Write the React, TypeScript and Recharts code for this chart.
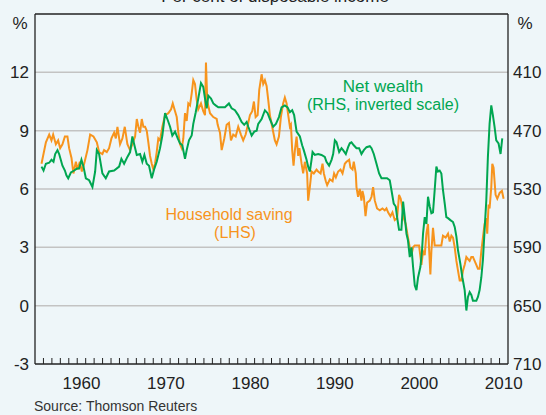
import { LineChart, Line, XAxis, YAxis, ReferenceLine } from "recharts";

// household saving, per cent of disposable income (LHS)
const savingYears = [
  1955.77, 1956.29, 1956.68, 1956.95, 1957.15, 1957.47, 1957.74, 1957.98, 1958.25, 1958.54, 1958.84,
  1959.04, 1959.32, 1959.55, 1959.84, 1960.03, 1960.31, 1960.55, 1960.82, 1961.21, 1961.53, 1961.92,
  1962.32, 1962.59, 1962.98, 1963.18, 1963.5, 1963.77, 1964.05, 1964.37, 1964.57, 1964.76, 1965.07,
  1965.35, 1965.63, 1965.94, 1966.26, 1966.53, 1966.85, 1967.05, 1967.24, 1967.44, 1967.64, 1967.83,
  1968.03, 1968.23, 1968.42, 1968.62, 1968.82, 1969.01, 1969.21, 1969.41, 1969.6, 1969.8, 1970.08,
  1970.4, 1970.79, 1971.11, 1971.31, 1971.58, 1971.78, 1971.97, 1972.17, 1972.37, 1972.56, 1972.76,
  1972.96, 1973.15, 1973.35, 1973.55, 1973.74, 1973.94, 1974.14, 1974.33, 1974.65, 1974.92, 1975.13,
  1975.24, 1975.4, 1975.72, 1976.11, 1976.51, 1976.63, 1976.9, 1977.1, 1977.41, 1977.69, 1977.96,
  1978.2, 1978.47, 1978.76, 1979.06, 1979.38, 1979.65, 1979.94, 1980.25, 1980.45, 1980.72, 1980.92,
  1981.12, 1981.36, 1981.55, 1981.83, 1982.02, 1982.22, 1982.42, 1982.61, 1982.81, 1983.08, 1983.4,
  1983.6, 1983.88, 1984.11, 1984.38, 1984.58, 1984.79, 1984.98, 1985.18, 1985.3, 1985.45, 1985.61,
  1985.77, 1985.97, 1986.16, 1986.3, 1986.56, 1986.75, 1986.95, 1987.22, 1987.34, 1987.54, 1987.74,
  1988.01, 1988.33, 1988.52, 1988.81, 1989.04, 1989.2, 1989.43, 1989.59, 1989.91, 1990.23, 1990.41,
  1990.62, 1990.89, 1991.17, 1991.41, 1991.68, 1991.88, 1992.19, 1992.35, 1992.59, 1992.74, 1992.98,
  1993.06, 1993.25, 1993.45, 1993.65, 1993.77, 1993.93, 1994.13, 1994.32, 1994.64, 1994.84, 1995.03,
  1995.23, 1995.5, 1995.82, 1996.14, 1996.41, 1996.61, 1996.8, 1997.08, 1997.32, 1997.59, 1997.87,
  1998.1, 1998.3, 1998.5, 1998.66, 1998.89, 1999.16, 1999.37, 1999.57, 1999.76, 1999.96, 2000.23,
  2000.47, 2000.75, 2000.94, 2001.14, 2001.34, 2001.53, 2001.65, 2001.81, 2001.93, 2002.12, 2002.32,
  2002.52, 2002.83, 2003.11, 2003.3, 2003.62, 2003.9, 2004.1, 2004.3, 2004.49, 2004.69, 2004.89,
  2005.08, 2005.28, 2005.48, 2005.67, 2005.87, 2006.07, 2006.26, 2006.46, 2006.66, 2006.85, 2007.05,
  2007.25, 2007.44, 2007.64, 2007.84, 2008.03, 2008.23, 2008.43, 2008.54, 2008.7, 2008.82, 2009.02,
  2009.14, 2009.29, 2009.53, 2009.73, 2010.01, 2010.28, 2010.48,
];
const savingValues = [
  7.3, 8.4, 8.8, 8.5, 8.8, 8.3, 8.5, 8.1, 8.3, 8.7, 8.7,
  8.1, 7.6, 6.8, 7.4, 7.0, 7.4, 6.9, 7.3, 8.0, 8.8, 8.7,
  8.4, 7.9, 7.8, 8.0, 7.9, 8.1, 8.6, 8.9, 8.6, 9.2, 8.3,
  8.6, 9.2, 8.3, 8.0, 8.3, 8.7, 9.6, 9.2, 8.9, 9.6, 9.2,
  9.2, 9.0, 8.4, 7.7, 7.3, 7.0, 7.3, 7.9, 8.6, 8.5, 9.2,
  9.8, 9.9, 10.1, 10.4, 10.0, 9.7, 8.9, 8.3, 8.1, 8.6, 9.9,
  9.5, 10.4, 10.3, 10.9, 11.6, 11.4, 10.6, 10.1, 10.4, 10.0, 9.8,
  12.5, 10.5, 9.9, 9.7, 9.6, 9.3, 8.9, 8.0, 8.6, 9.3, 9.4,
  8.5, 8.8, 8.7, 9.2, 8.8, 8.5, 8.8, 9.4, 9.8, 10.0, 10.5,
  9.7, 9.8, 11.1, 11.9, 11.4, 11.6, 11.3, 10.6, 9.8, 9.2, 8.5,
  8.3, 8.7, 9.7, 10.4, 10.7, 10.4, 9.8, 9.2, 9.3, 8.0, 7.2,
  8.0, 8.7, 7.7, 8.1, 7.3, 6.8, 7.4, 6.8, 5.4, 6.1, 6.9,
  6.8, 7.0, 6.9, 6.8, 7.3, 6.8, 6.4, 6.2, 6.5, 6.4, 6.8,
  6.6, 6.9, 7.0, 6.8, 7.3, 7.4, 7.5, 7.1, 7.0, 7.4, 6.8,
  6.1, 5.6, 6.0, 5.4, 5.9, 5.6, 4.6, 5.3, 5.4, 5.6, 6.1,
  5.4, 5.0, 4.9, 5.0, 4.9, 5.0, 4.8, 4.6, 4.8, 4.4, 4.5,
  5.7, 5.5, 5.0, 4.5, 4.2, 3.5, 3.0, 2.6, 3.0, 3.1, 3.1,
  3.1, 2.1, 2.8, 2.6, 3.7, 4.2, 3.0, 1.6, 2.8, 4.0, 3.1,
  3.1, 3.1, 3.1, 3.6, 3.5, 3.7, 3.3, 3.6, 3.5, 3.0, 2.3,
  1.8, 1.3, 1.3, 1.8, 2.1, 2.5, 2.4, 2.3, 2.5, 2.5, 2.3,
  2.1, 1.9, 1.9, 2.8, 3.5, 4.2, 4.5, 3.7, 5.2, 5.0, 6.1,
  7.3, 7.1, 5.7, 5.5, 5.8, 5.9, 5.5,
];

// net wealth, per cent of disposable income (RHS, inverted)
const wealthYears = [
  1955.77, 1956.01, 1956.29, 1956.68, 1956.95, 1957.19, 1957.39, 1957.66, 1957.86, 1958.25, 1958.54,
  1958.72, 1958.93, 1959.25, 1959.64, 1959.96, 1960.23, 1960.5, 1960.74, 1961.02, 1961.41, 1961.8,
  1962.12, 1962.32, 1962.59, 1962.98, 1963.38, 1963.77, 1964.37, 1964.96, 1965.23, 1965.55, 1965.94,
  1966.26, 1966.53, 1966.77, 1967.05, 1967.44, 1967.71, 1967.95, 1968.23, 1968.5, 1968.82, 1969.13,
  1969.41, 1969.8, 1970.08, 1970.4, 1970.71, 1970.99, 1971.26, 1971.58, 1971.9, 1972.17, 1972.44,
  1972.76, 1972.96, 1973.23, 1973.55, 1973.74, 1974.03, 1974.33, 1974.65, 1974.92, 1975.13, 1975.33,
  1975.52, 1975.84, 1976.11, 1976.39, 1976.7, 1977.1, 1977.49, 1977.96, 1978.28, 1978.67, 1979.06,
  1979.46, 1979.77, 1980.06, 1980.25, 1980.65, 1980.96, 1981.24, 1981.43, 1981.83, 1982.22, 1982.54,
  1982.81, 1983.2, 1983.52, 1983.88, 1984.19, 1984.58, 1984.9, 1985.18, 1985.45, 1985.68, 1985.97,
  1986.36, 1986.63, 1986.82, 1987.15, 1987.34, 1987.54, 1987.74, 1987.86, 1988.13, 1988.52, 1988.92,
  1989.31, 1989.51, 1989.82, 1990.11, 1990.3, 1990.5, 1990.7, 1991.01, 1991.29, 1991.48, 1991.8,
  1992.07, 1992.27, 1992.47, 1992.74, 1993.06, 1993.37, 1993.65, 1993.93, 1994.25, 1994.64, 1994.84,
  1995.11, 1995.43, 1995.74, 1996.02, 1996.41, 1996.68, 1997.0, 1997.2, 1997.47, 1997.71, 1997.87,
  1998.1, 1998.38, 1998.58, 1998.78, 1998.98, 1999.16, 1999.37, 1999.57, 1999.76, 1999.96, 2000.16,
  2000.35, 2000.63, 2000.82, 2000.94, 2001.14, 2001.34, 2001.53, 2001.73, 2001.93, 2002.12, 2002.32,
  2002.52, 2002.71, 2002.91, 2003.11, 2003.3, 2003.51, 2003.7, 2003.9, 2004.18, 2004.49, 2004.69,
  2004.89, 2005.08, 2005.36, 2005.6, 2005.87, 2006.07, 2006.26, 2006.46, 2006.66, 2006.85, 2007.25,
  2007.44, 2007.64, 2007.84, 2008.03, 2008.23, 2008.43, 2008.62, 2008.82, 2009.02, 2009.21, 2009.41,
  2009.61, 2009.88, 2010.12, 2010.32,
];
const wealthValues = [
  507, 511, 504, 503, 500, 502, 494, 490, 494, 506, 511,
  516, 519, 513, 511, 509, 509, 500, 507, 519, 521, 528,
  512, 490, 494, 514, 519, 512, 511, 507, 499, 504, 497,
  492, 476, 485, 495, 494, 502, 495, 504, 506, 519, 509,
  502, 488, 475, 452, 459, 466, 475, 471, 478, 483, 485,
  499, 490, 480, 475, 463, 451, 437, 421, 425, 437, 447,
  434, 437, 442, 444, 446, 446, 446, 442, 447, 449, 454,
  461, 464, 461, 466, 475, 471, 470, 463, 458, 449, 452,
  458, 466, 463, 456, 446, 444, 446, 451, 449, 454, 471,
  476, 485, 490, 500, 507, 512, 500, 492, 495, 494, 495,
  497, 502, 506, 500, 494, 480, 482, 492, 488, 490, 494,
  487, 483, 482, 485, 488, 488, 494, 490, 487, 486, 488,
  494, 504, 514, 519, 519, 519, 521, 531, 545, 548, 559,
  572, 572, 543, 559, 576, 583, 600, 590, 610, 629, 634,
  621, 610, 593, 576, 559, 566, 538, 548, 555, 554, 531,
  507, 512, 511, 514, 531, 545, 559, 560, 562, 564, 569,
  579, 593, 607, 621, 634, 655, 641, 636, 639, 645, 645,
  641, 634, 621, 603, 572, 542, 497, 463, 444, 454, 466,
  480, 483, 494, 478,
];

const leftTicks = [-3, 0, 3, 6, 9, 12];
const rightTicks = [410, 470, 530, 590, 650, 710];
const gridValues = [0, 3, 6, 9, 12];
const decadeLabels = [1960, 1970, 1980, 1990, 2000, 2010];
const yearTicks = Array.from({ length: 55 }, (_, i) => 1956 + i);

const savingData = savingYears.map((year, i) => ({ year, v: savingValues[i] }));
const wealthData = wealthYears.map((year, i) => ({ year, v: wealthValues[i] }));

const W = 546;
const H = 415;
const LEFT = 35;
const RIGHT = 38;
const HALF_YEAR = (W - LEFT - RIGHT) / 56 / 2;

const ORANGE = "#F7941D";
const GREEN = "#00A651";
const BG = "#EEF6F9";
const INK = "#222";
const FONT = "Arial, 'Liberation Sans', sans-serif";

function YearTick(props: any) {
  const { x, y, payload } = props;
  const yr = payload.value;
  return (
    <g>
      <line x1={x} y1={y - 6} x2={x} y2={y} stroke={INK} strokeWidth={1} />
      {decadeLabels.includes(yr) && (
        <text x={x + HALF_YEAR} y={y + 25} textAnchor="middle" fontSize={17} fill={INK} fontFamily={FONT}>
          {yr}
        </text>
      )}
    </g>
  );
}

export default function App() {
  const tickStyle = { fontSize: 17, fill: INK, fontFamily: FONT };
  return (
    <div style={{ position: "relative", width: W, height: H, background: BG, overflow: "hidden" }}>
      <style>{`body{margin:0}`}</style>
      <LineChart width={W} height={H} margin={{ top: 14, right: 0, bottom: 0, left: 0 }}>
        <XAxis
          dataKey="year"
          type="number"
          domain={[1955, 2011]}
          allowDataOverflow
          ticks={yearTicks}
          interval={0}
          tick={<YearTick />}
          tickLine={false}
          tickSize={0}
          tickMargin={0}
          height={51}
          axisLine={{ stroke: INK, strokeWidth: 1.3 }}
        />
        <YAxis
          yAxisId="left"
          domain={[-3, 15]}
          ticks={leftTicks}
          interval={0}
          width={LEFT}
          tickLine={false}
          tickSize={0}
          tickMargin={6}
          tick={tickStyle}
          axisLine={{ stroke: INK, strokeWidth: 1.3 }}
        />
        <YAxis
          yAxisId="right"
          orientation="right"
          domain={[350, 710]}
          reversed
          ticks={rightTicks}
          interval={0}
          width={RIGHT}
          tickLine={false}
          tickSize={0}
          tickMargin={5}
          tick={tickStyle}
          axisLine={{ stroke: INK, strokeWidth: 1.3 }}
        />
        {gridValues.map((g) => (
          <ReferenceLine key={g} yAxisId="left" y={g} stroke="#C3C3C3" strokeWidth={1.5} />
        ))}
        <ReferenceLine yAxisId="left" y={15} stroke={INK} strokeWidth={1.3} />
        <Line
          yAxisId="left"
          data={savingData}
          dataKey="v"
          type="linear"
          stroke={ORANGE}
          strokeWidth={2}
          dot={false}
          isAnimationActive={false}
        />
        <Line
          yAxisId="right"
          data={wealthData}
          dataKey="v"
          type="linear"
          stroke={GREEN}
          strokeWidth={2}
          dot={false}
          isAnimationActive={false}
        />
      </LineChart>
      <svg width={W} height={H} style={{ position: "absolute", left: 0, top: 0, pointerEvents: "none" }} fontFamily={FONT}>
        <text x={275} y={2} textAnchor="middle" fontSize={17} fill={INK}>Per cent of disposable income</text>
        <text x={20} y={29} textAnchor="middle" fontSize={17} fill={INK}>%</text>
        <text x={525} y={29} textAnchor="middle" fontSize={17} fill={INK}>%</text>
        <text x={383} y={92} textAnchor="middle" fontSize={17} fill={GREEN}>Net wealth</text>
        <text x={383} y={110} textAnchor="middle" fontSize={16} fill={GREEN}>(RHS, inverted scale)</text>
        <text x={229} y={220} textAnchor="middle" fontSize={16} fill={ORANGE}>Household saving</text>
        <text x={235} y={238} textAnchor="middle" fontSize={16} fill={ORANGE}>(LHS)</text>
        <text x={34} y={411} fontSize={14} fill="#333">Source: Thomson Reuters</text>
      </svg>
    </div>
  );
}
